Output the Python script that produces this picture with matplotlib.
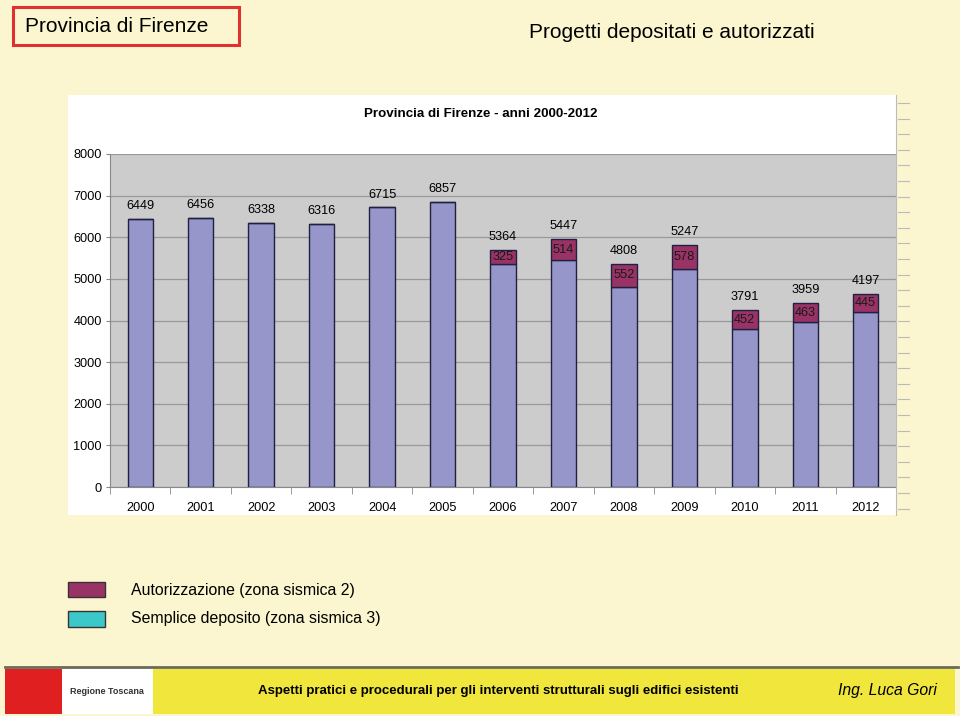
import matplotlib
matplotlib.use("Agg")
import matplotlib.pyplot as plt
from matplotlib.patches import Rectangle
from matplotlib.lines import Line2D
import numpy as np

years = ["2000", "2001", "2002", "2003", "2004", "2005", "2006",
         "2007", "2008", "2009", "2010", "2011", "2012"]
deposito = [6449, 6456, 6338, 6316, 6715, 6857, 5364,
            5447, 4808, 5247, 3791, 3959, 4197]
autorizzazione = [0, 0, 0, 0, 0, 0, 325, 514, 552, 578, 452, 463, 445]
yticks = [0, 1000, 2000, 3000, 4000, 5000, 6000, 7000, 8000]

W, H = 960, 716
BG = "#FBF6CF"
PURPLE = "#9696CA"
MAROON = "#993366"
TEAL = "#3CC8C8"
GRAY = "#CCCCCC"
FONT = "Liberation Sans"

fig = plt.figure(figsize=(W / 100, H / 100), dpi=100)
fig.patch.set_facecolor(BG)

def fx(px):
    return px / W

def fy(py):
    return 1 - py / H

def rect(x0, y0, x1, y1, **kw):
    r = Rectangle((fx(x0), fy(y1)), fx(x1) - fx(x0), fy(y0) - fy(y1),
                  transform=fig.transFigure, **kw)
    fig.add_artist(r)
    return r

# Header
rect(13, 7, 239, 45, facecolor="none", edgecolor="#E03030", linewidth=2.2)
fig.text(fx(25), fy(27), "Provincia di Firenze", fontsize=15,
         family=FONT, va="center", ha="left")
fig.text(fx(672), fy(32), "Progetti depositati e autorizzati", fontsize=15,
         family=FONT, va="center", ha="center")

# Chart white area
rect(68, 95, 896, 515, facecolor="white", edgecolor="none", zorder=0)
fig.text(fx(481), fy(114), "Provincia di Firenze - anni 2000-2012", fontsize=9.6,
         fontweight="bold", family=FONT, va="center", ha="center")

# Right strip decoration
for yy in np.arange(103, 515, 15.6):
    fig.add_artist(Line2D([fx(898), fx(909)], [fy(yy), fy(yy)],
                          transform=fig.transFigure, color="#BBBBBB", lw=0.8))
fig.add_artist(Line2D([fx(896), fx(896)], [fy(95), fy(515)],
                      transform=fig.transFigure, color="#BBBBBB", lw=0.8))

# Axes
ax = fig.add_axes([fx(110), fy(487), fx(896) - fx(110), fy(154) - fy(487)])
ax.set_facecolor(GRAY)
x = np.arange(len(years))
bw = 0.42
ax.bar(x, deposito, width=bw, color=PURPLE, edgecolor="#202040", linewidth=1.0, zorder=3)
ax.bar(x, autorizzazione, width=bw, bottom=deposito, color=MAROON,
       edgecolor="#202040", linewidth=1.0, zorder=3)
ax.set_xlim(-0.5, len(years) - 0.5)
ax.set_ylim(0, 8000)
ax.set_yticks(yticks)
ax.set_yticklabels([str(v) for v in yticks], fontsize=9.2, family=FONT)
ax.set_xticks(x)
ax.set_xticklabels(years, fontsize=9.2, family=FONT)
ax.tick_params(axis="x", length=0, pad=11)
ax.tick_params(axis="y", length=3, color="#888888", pad=3)
ax.set_xticks(np.arange(-0.5, len(years), 1), minor=True)
ax.tick_params(axis="x", which="minor", length=5, color="#888888")
ax.grid(axis="y", color="#999999", linewidth=0.9, zorder=1)
for s in ["top", "right"]:
    ax.spines[s].set_visible(False)
ax.spines["left"].set_color("#888888")
ax.spines["bottom"].set_color("#888888")

for i in range(len(years)):
    top = deposito[i] + autorizzazione[i]
    ax.annotate(str(deposito[i]), (x[i], top), xytext=(0, 5), textcoords="offset points",
                ha="center", va="bottom", fontsize=9.2, family=FONT, zorder=5)
    if autorizzazione[i] > 0:
        ax.text(x[i], deposito[i] + autorizzazione[i] / 2, str(autorizzazione[i]),
                ha="center", va="center", fontsize=9.2, family=FONT,
                color="#1a1a1a", zorder=5)

# Legend
rect(68, 582, 105, 597, facecolor=MAROON, edgecolor="#333333", linewidth=1)
rect(68, 611, 105, 627, facecolor=TEAL, edgecolor="#333333", linewidth=1)
fig.text(fx(131), fy(590), "Autorizzazione (zona sismica 2)", fontsize=11.4,
         family=FONT, va="center", ha="left")
fig.text(fx(131), fy(618), "Semplice deposito (zona sismica 3)", fontsize=11.4,
         family=FONT, va="center", ha="left")

# Footer
fig.add_artist(Line2D([fx(5), fx(958)], [fy(667), fy(667)], transform=fig.transFigure,
                      color="#6a6a5a", lw=2))
rect(5, 669, 62, 714, facecolor="#E02020", edgecolor="none")
rect(62, 669, 153, 714, facecolor="white", edgecolor="none")
rect(153, 669, 955, 714, facecolor="#F0E63C", edgecolor="none")
fig.text(fx(70), fy(691), "Regione Toscana", fontsize=6.5, fontweight="bold",
         family=FONT, va="center", ha="left", color="#333333")
fig.text(fx(498), fy(691),
         "Aspetti pratici e procedurali per gli interventi strutturali sugli edifici esistenti",
         fontsize=9.5, fontweight="bold", family=FONT, va="center", ha="center")
fig.text(fx(887), fy(691), "Ing. Luca Gori", fontsize=11.3, style="italic",
         family=FONT, va="center", ha="center")

fig.savefig("out.png", dpi=100, facecolor=BG)
